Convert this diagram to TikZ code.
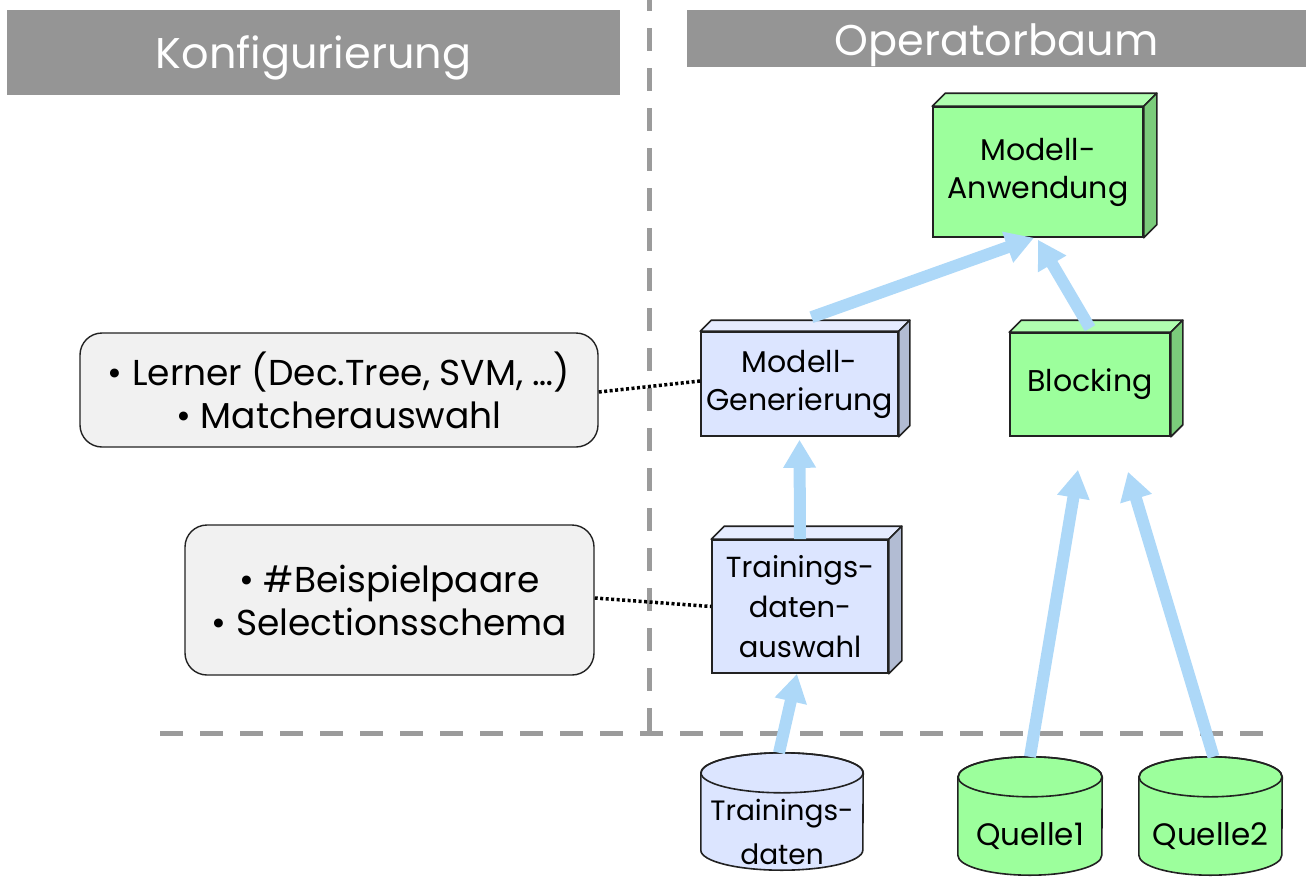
\documentclass[tikz,border=0pt]{standalone}
\usepackage{fontspec}
\setmainfont{Poppins}
\usetikzlibrary{arrows.meta,calc}
\definecolor{hdr}{HTML}{959595}
\definecolor{dashgray}{HTML}{9B9B9B}
\definecolor{arrowblue}{HTML}{ADD8F8}
\definecolor{gfront}{HTML}{9CFF9C}
\definecolor{gtop}{HTML}{B0FFB0}
\definecolor{gside}{HTML}{7BCC7B}
\definecolor{bfront}{HTML}{DCE5FF}
\definecolor{btop}{HTML}{E6ECFF}
\definecolor{bside}{HTML}{B2BCD3}
\definecolor{cfgfill}{HTML}{F1F1F1}
\definecolor{edge}{HTML}{222222}
\newcommand{\cubefaces}[4]{%
  \draw[edge, line width=1.6pt, line join=round, fill=#2]
    (#1.north west) -- ([shift={(#4,#4)}]#1.north west) -- ([shift={(#4,#4)}]#1.north east) -- (#1.north east) -- cycle;
  \draw[edge, line width=1.6pt, line join=round, fill=#3]
    (#1.north east) -- ([shift={(#4,#4)}]#1.north east) -- ([shift={(#4,#4)}]#1.south east) -- (#1.south east) -- cycle;}
\newcommand{\cylbody}[3]{%
  \draw[edge, line width=1.6pt, fill=#2]
    ([yshift=20pt]#1.north west) -- ([yshift=20pt]#1.south west)
    arc[start angle=180, end angle=360, x radius=#3, y radius=20pt]
    -- ([yshift=20pt]#1.north east)
    arc[start angle=0, end angle=180, x radius=#3, y radius=20pt] -- cycle;
  \draw[edge, line width=1.6pt] ([yshift=20pt]#1.north) ellipse[x radius=#3, y radius=20pt];}
\begin{document}
\begin{tikzpicture}[x=1pt,y=-1pt,
  header/.style={fill=hdr, text=white, inner sep=0pt, font=\fontsize{43}{50}\selectfont},
  sep/.style={draw=dashgray, line width=5pt, dash pattern=on 23pt off 17pt},
  cube/.style={draw=edge, line width=1.6pt, inner sep=0pt, align=center, font=\fontsize{30}{38}\selectfont},
  cyl/.style={inner sep=0pt, align=center, font=\fontsize{28}{44}\selectfont},
  cfg/.style={draw=edge, line width=1.4pt, fill=cfgfill, rounded corners=22pt, inner sep=0pt, align=center, font=\fontsize{36}{43}\selectfont},
  dots/.style={draw=black, line width=3.5pt, dash pattern=on 3pt off 2.5pt},
  flow/.style={draw=arrowblue, line width=12pt, -{Triangle[length=28pt,width=31pt]}}]
\useasboundingbox (0,0) rectangle (1312,878);

% headers
\node[header, minimum width=613pt, minimum height=85pt, text height=34pt, text depth=3pt] (hk) at (313.5,52.5) {Konfigurierung};
\node[header, minimum width=619pt, minimum height=57pt, text height=36pt, text depth=3pt] (ho) at (996.5,38.5) {Operatorbaum};

% separators
\coordinate (vtop) at (649,0);
\coordinate (vbot) at (649,733);
\coordinate (hl) at (160,733);
\coordinate (hr) at (1265,733);
\draw[sep, dash phase=12pt] (vtop) -- (vbot);
\draw[sep] (hl) -- (hr);

% operator boxes
\node[cube, fill=gfront, minimum width=210pt, minimum height=130pt] (ma) at (1038,172) {Modell-\\Anwendung};
\cubefaces{ma}{gtop}{gside}{13pt}
\node[cube, fill=bfront, minimum width=197pt, minimum height=104pt] (mg) at (799.5,384) {Modell-\\Generierung};
\cubefaces{mg}{btop}{bside}{11pt}
\node[cube, fill=gfront, minimum width=160pt, minimum height=103pt] (bl) at (1090,384.5) {Blocking};
\cubefaces{bl}{gtop}{gside}{12pt}
\node[cube, fill=bfront, minimum width=176pt, minimum height=133pt, font=\fontsize{29}{40}\selectfont] (tda) at (800,606.5) {Trainings-\\daten-\\auswahl};
\cubefaces{tda}{btop}{bside}{13pt}

% data sources
\path (782,831.5) node[cyl, minimum width=162pt, minimum height=77pt] (td) {};
\cylbody{td}{bfront}{81pt}
\node[cyl] (tdt) at (td.center) {Trainings-\\daten};
\path (1030,836) node[cyl, minimum width=144pt, minimum height=78pt] (q1) {};
\cylbody{q1}{gfront}{72pt}
\node[cyl, font=\fontsize{31}{40}\selectfont] (q1t) at (q1.center) {Quelle1};
\path (1210.5,836) node[cyl, minimum width=143pt, minimum height=78pt] (q2) {};
\cylbody{q2}{gfront}{71.5pt}
\node[cyl, font=\fontsize{31}{40}\selectfont] (q2t) at (q2.center) {Quelle2};

% configuration boxes
\node[cfg, minimum width=518pt, minimum height=114pt] (c1) at (339,390) {\textbullet\ Lerner (Dec.Tree, SVM, \dots)\\\textbullet\ Matcherauswahl};
\node[cfg, minimum width=409pt, minimum height=150pt] (c2) at (389.5,600) {\textbullet\ \#Beispielpaare\\\textbullet\ Selectionsschema};

\draw[dots] ([yshift=-2pt]c1.east) -- ([yshift=3pt]mg.west);
\draw[dots] ([yshift=2pt]c2.east) -- (tda.west);

% flow arrows
\draw[flow] ([shift={(12pt,14pt)}]mg.north) -- ([xshift=-4pt]ma.south);
\draw[flow] ([yshift=4pt]bl.north) -- ([yshift=-2pt]ma.south);
\draw[flow] (tda.north) -- ([yshift=-3pt]mg.south);
\draw[flow] ([shift={(-3pt,40pt)}]td.north) -- ([xshift=-3pt]tda.south);
\draw[flow] ([yshift=40pt]q1.north) -- ([shift={(-12pt,-33pt)}]bl.south);
\draw[flow] ([shift={(3pt,40pt)}]q2.north) -- ([shift={(38pt,-35pt)}]bl.south);
\end{tikzpicture}
\end{document}
